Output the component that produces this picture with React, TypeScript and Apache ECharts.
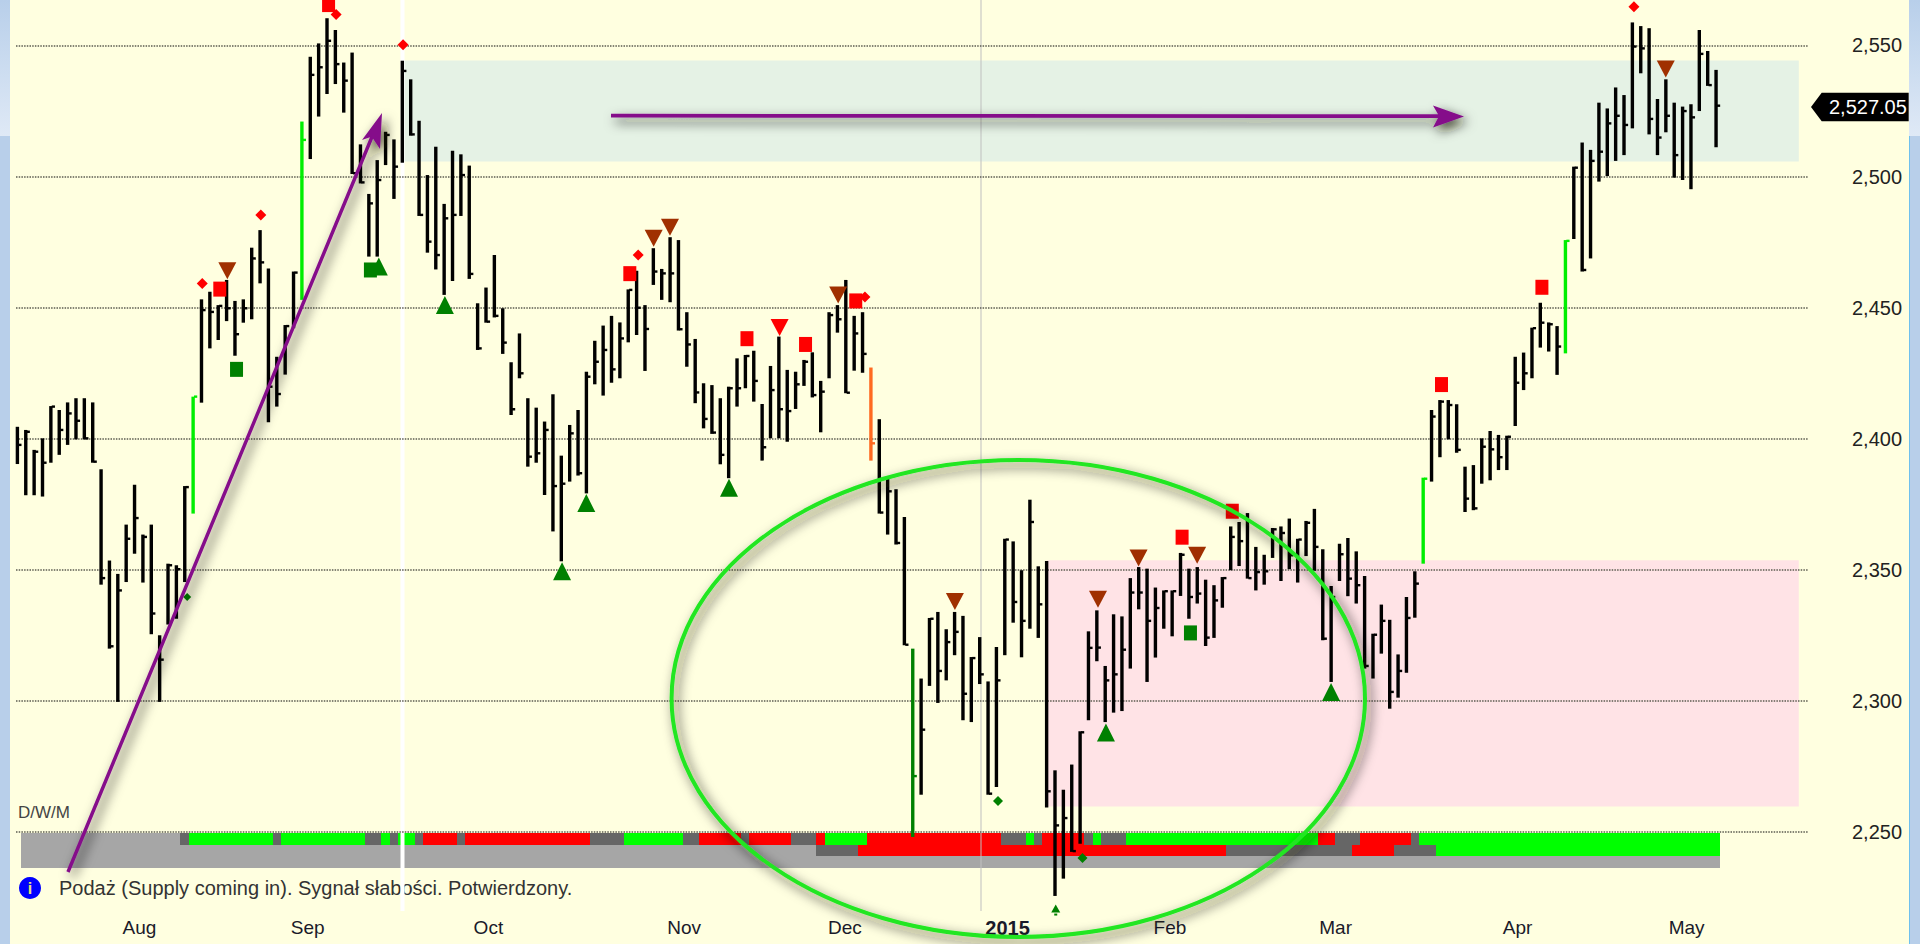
import React, { useEffect, useRef } from "react";
import * as echarts from "echarts";

const highs = [
  2404.6,2403.4,2395.8,2400.2,2412.5,2411,2413.9,2415.5,2415.5,2413.9,
  2388.4,2353.6,2348.5,2367.3,2382.5,2363.5,2367.3,2325.1,2352.4,2351.8,
  2382,2416.1,2453.2,2456.1,2451,2460.6,2452.6,2453.2,2472.9,2479.6,
  2465,2431.3,2443.4,2463.8,2521,2545.7,2550.8,2560.4,2555.9,2543.5,
  2547.3,2512.3,2493.4,2506.3,2517.1,2514.2,2544.2,2537.1,2521.3,2500.6,
  2511.4,2489.6,2509.9,2508.5,2504.2,2451.7,2457.7,2470.1,2449.8,2429.2,
  2440.2,2415.5,2411.9,2406.6,2417,2393.6,2405.3,2411,2425.6,2437.4,
  2443.2,2446.9,2444.4,2457,2464.1,2451,2472.7,2464.8,2476.9,2475.8,
  2448.3,2438.1,2421.2,2420.5,2415.5,2419.9,2430.7,2432,2433.6,2413.3,
  2427.8,2439,2426.3,2425.6,2430.1,2433,2422.1,2448.3,2451,2460.6,
  2446.9,2448.3,2427.2,2407.5,2385,2380.8,2370.2,2320,2308.6,2331.7,
  2334,2327.4,2334,2332.5,2316.8,2324.4,2307.5,2320.6,2361.9,2360.9,
  2349.9,2376.8,2351.4,2353.4,2273.6,2266.2,2275.8,2288.5,2326.6,2334.6,
  2313.4,2333.1,2332.3,2346.9,2351.1,2350.5,2343.3,2342.2,2342.2,2356.5,
  2350.5,2351.1,2346.3,2344.2,2347.3,2366.6,2368.3,2371.7,2358.8,2355.8,
  2366,2366.6,2369.6,2361.9,2368.7,2373.3,2357.9,2343.9,2360,2362.2,
  2357.1,2347.7,2325.7,2336.8,2331,2317.8,2339.7,2349.5,2385.2,2411,
  2414.8,2414.8,2413.2,2389.4,2390,2400.2,2403,2401.5,2401.2,2431.3,
  2432.9,2442.4,2451.9,2444.4,2443,2475.8,2503.8,2513,2510.2,2528.2,
  2526,2534,2531.1,2558.8,2557.4,2556.6,2529.6,2537.1,2528.2,2526.7,
  2527.6,2555.9,2547.9,2540.7,
];
const lows = [
  2390.4,2378.5,2378.5,2378,2390.9,2393.9,2397.7,2399.8,2399.8,2390.9,
  2344.4,2320,2299.7,2345.4,2356.2,2345.2,2325.5,2299.7,2329.2,2331.4,
  2345.4,2371.5,2413.8,2434.5,2437.7,2444.9,2431.7,2444.3,2445.6,2459.3,
  2406.3,2412.3,2424.5,2442.2,2453,2506.7,2522.9,2531.5,2535.3,2524.4,
  2501,2497.4,2469.5,2469.5,2504.4,2491.5,2505.3,2515.6,2485,2471,
  2464.6,2454.9,2460.2,2485,2461,2433.9,2444.3,2446.3,2432.4,2409.1,
  2423.1,2389.4,2390.9,2378.6,2364.7,2353.3,2383.7,2386,2379.2,2420.8,
  2416.5,2421.4,2423.1,2436.8,2439.6,2425.9,2458.7,2453,2452.1,2441.3,
  2427.5,2413.6,2404,2401.9,2390.3,2385,2412.3,2419.3,2414.2,2391.7,
  2400.2,2400.2,2398.9,2411.4,2420.2,2415.8,2402.5,2423.1,2440.5,2417.4,
  2426,2425.2,2391.7,2371.5,2363.5,2359.7,2321.3,2248.2,2264.3,2305.8,
  2299.3,2307.9,2317.5,2292.7,2292,2306.5,2264.3,2267.2,2317.5,2329.9,
  2316.7,2327.6,2324.1,2259.4,2225.7,2232.3,2242.5,2245.6,2292.7,2315.2,
  2292,2295.6,2296.2,2312.4,2335,2307.3,2316.6,2327.6,2324.7,2340.1,
  2331.4,2337.2,2321,2324.1,2335.6,2349.9,2351.5,2346.7,2342.2,2344.4,
  2354.6,2345.8,2350.3,2345.2,2355.3,2349.7,2323.2,2307.3,2345.8,2340,
  2337.2,2312.4,2308.6,2318.1,2297.1,2301.3,2310.8,2331.8,2352.4,2383.7,
  2393,2399.8,2394.7,2372.1,2372.8,2382.9,2384.2,2388.1,2388.1,2404.9,
  2418.6,2423.1,2434.8,2433.3,2424.4,2432.6,2476.2,2463.8,2468.8,2498.1,
  2500.2,2506,2508.2,2518.4,2539.4,2516.1,2508.2,2516.9,2499.6,2498.7,
  2495.2,2525,2534.6,2511.2,
];
const closes = [
  2397.7,2402.7,2395.1,2390.9,2412.3,2403.4,2409.7,2406.9,2400.2,2391.3,
  2346.9,2320.9,2342.2,2361.9,2369.8,2362.6,2333.4,2315.8,2351.8,2350.3,
  2381.6,2416.1,2449.1,2448.4,2450.7,2449.8,2439.9,2449.8,2468.8,2467.3,
  2419.9,2417.1,2443,2463.4,2514,2538.8,2541.7,2551.8,2542.9,2536.6,
  2501.3,2497.8,2489.8,2498.7,2515.9,2503.8,2540.3,2516.1,2485.4,2475.2,
  2470.1,2484.1,2485.4,2500.6,2462.9,2434.5,2444.7,2446.9,2436.7,2411.3,
  2425,2393.2,2394.5,2403.4,2382,2382.9,2402.1,2386.9,2423.7,2429.4,
  2433.9,2426.5,2438.3,2456.8,2450,2441.9,2463.8,2463.1,2463.1,2441.8,
  2436,2417.7,2407.6,2402.4,2393.9,2419.3,2419.3,2431.6,2422.1,2396.8,
  2418.6,2411.3,2410.6,2420.8,2429.4,2416.7,2418,2447.2,2445.6,2417.6,
  2440.2,2432.4,2398.3,2371.9,2380,2360.3,2321.5,2271.4,2289.1,2331.4,
  2311.5,2322.5,2326.4,2302.8,2316.4,2310.2,2264.7,2307.9,2361.6,2337.8,
  2330.6,2368.3,2336.9,2265.6,2252.6,2255.4,2242.8,2288.1,2320.3,2320.4,
  2307.9,2310.2,2319.6,2341.4,2341.4,2330.6,2335.5,2341.9,2341.9,2355.8,
  2339.7,2341,2324.2,2338.4,2346.9,2362.6,2361,2346.9,2349.2,2349.5,
  2365.5,2364.1,2355.6,2361.6,2368,2358.8,2323.8,2339.7,2356,2346.7,
  2344.2,2313.4,2325.3,2330.6,2303.5,2311.5,2331.7,2344.8,2384.8,2408.5,
  2414.2,2412.9,2395.8,2377.2,2373.5,2397,2396,2393,2400.8,2421.4,
  2425,2442.2,2444.3,2443.7,2435.2,2475.5,2503.4,2464.4,2506,2509.5,
  2520.3,2523.2,2519.7,2549.6,2548.9,2522,2514.9,2523.2,2508.2,2525,
  2522.6,2546.8,2534.9,2527.05,
];
const specialBars: Record<number, string> = {
  21: "#00ee00", 34: "#00ee00", 102: "#ff6a20", 107: "#008000", 168: "#00ee00", 185: "#00ee00",
};

const yTicks = [2250, 2300, 2350, 2400, 2450, 2500, 2550];
const monthLabels = ["Aug", "Sep", "Oct", "Nov", "Dec", "2015", "Feb", "Mar", "Apr", "May"];
const monthPositions = [14.6, 34.7, 56.3, 79.7, 98.9, 118.35, 137.75, 157.55, 179.3, 199.5];

// [x from, x to, price top, price bottom]
const supplyZone = [46.2, 212.9, 2544.3, 2505.8];
const demandZone = [123.05, 212.9, 2353.7, 2259.85];

const redSquares = [[24.2,2457.1],[37.2,2565.6],[73.2,2463],[87.2,2438.2],[94.2,2436],[100.2,2452.6],[139.2,2362.5],[145.2,2372.4],[170.2,2420.7],[182.2,2457.8]];
const greenSquares = [[26.2,2426.5],[42.2,2464.4],[140.2,2326]];
const redDiamonds = [[22.1,2459.2],[38.1,2561.8],[29.1,2485.4],[46.1,2550.3],[74.2,2470.1],[101.3,2454.1],[193.2,2564.8]];
const greenDiamonds = [[117.2,2261.9],[127.3,2240.2]];
const smallGreenDiamonds = [[20.3,2339.7]];
const spadeHeads = [[124.1,2220.9]];
const spadeDots = [[124.1,2218.6]];
const brownTriangles = [[25.1,2464.1],[76.05,2476.5],[78,2480.7],[98.1,2454.9],[112.05,2338],[129.15,2338.8],[134,2354.6],[141,2355.6],[197,2541]];
const redTriangles = [[91.1,2442.5]];
const greenTriangles = [[43.2,2465.7],[51.1,2451],[65.1,2349.5],[68,2375.5],[85.05,2381.4],[130.1,2288],[157,2303.5]];

// status rows: runs of [state, last bar] — n neutral, d dark, g green, r red
const dailyRuns: [string, number][] = [
  ["n",19],["d",20],["g",30],["d",31],["g",41],["d",43],["g",44],["d",45],["g",47],["d",48],["r",52],["d",53],["r",68],["d",72],
  ["g",79],["d",81],["r",86],["d",87],["r",92],["d",95],["r",96],["g",101],["r",117],["d",120],["g",121],["d",122],["r",127],
  ["d",128],["g",129],["d",132],["g",155],["r",157],["d",160],["r",166],["d",167],["g",203],
];
const weeklyRuns: [string, number][] = [["n",95],["d",100],["r",144],["d",159],["r",164],["d",169],["g",203]];
const monthlyRuns: [string, number][] = [["n",203]];
const stateColors: Record<string, string> = { n: "#a6a6a6", d: "#666666", g: "#00ff00", r: "#ff0000" };
const rowTops = [2249.7, 2245.3, 2240.9];
const rowHeight = 4.4;

const FONT = '"Liberation Sans", Arial, sans-serif';
const xMin = -0.155, xMax = 214, yMin = 2218.05, yMax = 2567.35;

function scatter(data: number[][], symbol: string, size: any, color: string, rotate = 0) {
  return {
    type: "scatter", data, symbol, symbolSize: size, symbolRotate: rotate, z: 4, silent: true, clip: false,
    itemStyle: { color, opacity: 1 },
  };
}

function buildRows() {
  const out: { start: number; end: number; top: number; state: string }[] = [];
  [dailyRuns, weeklyRuns, monthlyRuns].forEach((runs, row) => {
    let start = 0.5;
    runs.forEach(([state, last]) => {
      out.push({ start, end: last + 0.5, top: rowTops[row], state });
      start = last + 0.5;
    });
  });
  return out;
}

function buildOption() {
  const shadow = { shadowBlur: 12, shadowColor: "rgba(30,30,0,0.8)", shadowOffsetX: 4, shadowOffsetY: 5 };
  const rectSeries = (data: number[][], color: string) => ({
    type: "custom", z: 1, silent: true, data,
    renderItem: (_: any, api: any) => {
      const a = api.coord([api.value(0), api.value(2)]);
      const b = api.coord([api.value(1), api.value(3)]);
      return { type: "rect", shape: { x: a[0], y: a[1], width: b[0] - a[0], height: b[1] - a[1] }, style: { fill: color } };
    },
  });
  const rows = buildRows();
  const purple = "#85108a";
  const lightBlue = () => new echarts.graphic.LinearGradient(0, 0, 0, 1, [{ offset: 0, color: "#b8cfea" }, { offset: 1, color: "#dfe9f6" }]);
  return {
    animation: false,
    backgroundColor: "#ffffe0",
    grid: { left: 16, right: 112, top: 0, bottom: 28 },
    xAxis: {
      type: "value", min: xMin, max: xMax,
      axisLine: { show: false }, axisTick: { show: false }, splitLine: { show: false },
      axisLabel: {
        customValues: monthPositions, margin: 2, fontFamily: FONT, fontSize: 19, color: "#1a1a2a",
        formatter: (v: number) => {
          const t = monthLabels[monthPositions.indexOf(v)] ?? "";
          return t === "2015" ? `{b|${t}}` : t;
        },
        rich: { b: { fontWeight: "bold", fontSize: 20, fontFamily: FONT, color: "#1a1a2a" } },
      },
    },
    yAxis: {
      type: "value", position: "right", min: yMin, max: yMax, z: 2,
      axisLine: { show: false },
      axisTick: { show: false, customValues: yTicks },
      splitLine: { show: true, lineStyle: { color: "#5c5c50", type: [1.5, 1.2], width: 1.5 } },
      axisLabel: {
        customValues: yTicks, margin: 44, fontFamily: FONT, fontSize: 20, color: "#222222",
        formatter: (v: number) => v.toLocaleString("en-US"),
      },
    },
    series: [
      rectSeries([supplyZone], "#e5f2e5"),
      rectSeries([demandZone], "#ffe3e6"),
      {
        type: "custom", z: 1, silent: true, data: rows.map((r) => [r.start, r.end, r.top]),
        renderItem: (params: any, api: any) => {
          const a = api.coord([api.value(0), api.value(2)]);
          const b = api.coord([api.value(1), api.value(2) - rowHeight]);
          const x = Math.round(a[0]), y = Math.round(a[1]);
          return {
            type: "rect",
            shape: { x, y, width: Math.round(b[0]) - x, height: Math.round(b[1]) - y },
            style: { fill: stateColors[rows[params.dataIndex].state] },
          };
        },
      },
      {
        type: "custom", z: 3, silent: true,
        data: highs.map((h, i) => [i, h, lows[i], closes[i]]),
        renderItem: (_: any, api: any) => {
          const i = api.value(0);
          const top = api.coord([i, api.value(1)]);
          const bot = api.coord([i, api.value(2)]);
          const c = api.coord([i, api.value(3)]);
          const fill = specialBars[i] ?? "#000000";
          return {
            type: "group",
            children: [
              { type: "rect", shape: { x: top[0] - 1.6, y: top[1], width: 3.4, height: bot[1] - top[1] }, style: { fill } },
              { type: "rect", shape: { x: top[0] + 1, y: c[1] - 1.2, width: 3.2, height: 2.4 }, style: { fill } },
            ],
          };
        },
      },
      scatter(redSquares, "rect", [13, 15], "#ff0000"),
      scatter(greenSquares, "rect", [13, 15], "#008000"),
      scatter(redDiamonds, "diamond", 11, "#ff0000"),
      scatter(greenDiamonds, "diamond", 10, "#008000"),
      scatter(smallGreenDiamonds, "diamond", 8, "#008000"),
      scatter(spadeHeads, "triangle", [9, 8], "#008000"),
      scatter(spadeDots, "rect", [3, 2], "#008000"),
      scatter(brownTriangles, "triangle", [18, 17], "#a03000", 180),
      scatter(redTriangles, "triangle", [18, 17], "#ff0000", 180),
      scatter(greenTriangles, "triangle", [18, 18], "#008000"),
    ],
    graphic: {
      elements: [
        { type: "rect", z: 2, silent: true, shape: { x: 400.5, y: 0, width: 4, height: 911 }, style: { fill: "#ffffff" } },
        { type: "rect", z: 2, silent: true, shape: { x: 980.5, y: 0, width: 1, height: 911 }, style: { fill: "#c0c0c0" } },
        { type: "rect", z: 5, silent: true, shape: { x: 0, y: 0, width: 10, height: 944 }, style: { fill: "#b8cfea" } },
        { type: "rect", z: 5, silent: true, shape: { x: 1909, y: 0, width: 11, height: 944 }, style: { fill: "#b8cfea" } },
        { type: "rect", z: 5, silent: true, shape: { x: 0, y: 0, width: 10, height: 136 }, style: { fill: lightBlue() } },
        { type: "rect", z: 5, silent: true, shape: { x: 1909, y: 0, width: 11, height: 136 }, style: { fill: lightBlue() } },
        { type: "rect", z: 5, silent: true, shape: { x: 1909, y: 136, width: 1, height: 808 }, style: { fill: "#6fc0ee" } },
        { type: "text", z: 1, silent: true, x: 18, y: 812, style: { text: "D/W/M", font: `17px ${FONT}`, fill: "#444444", verticalAlign: "middle" } },
        { type: "circle", z: 1, silent: true, shape: { cx: 30, cy: 888, r: 11 }, style: { fill: "#0000ff" } },
        { type: "text", z: 1, silent: true, x: 30, y: 888, style: { text: "i", font: `bold 16px ${FONT}`, fill: "#e9e27a", align: "center", verticalAlign: "middle" } },
        { type: "text", z: 1, silent: true, x: 59, y: 888, style: { text: "Podaż (Supply coming in). Sygnał słabości. Potwierdzony.", font: `20px ${FONT}`, fill: "#333333", verticalAlign: "middle" } },
        { type: "polygon", z: 5, silent: true, shape: { points: [[1811, 107], [1821.7, 92.7], [1908.7, 92.7], [1908.7, 121.3], [1821.7, 121.3]] }, style: { fill: "#000000" } },
        { type: "text", z: 6, silent: true, x: 1829, y: 107, style: { text: "2,527.05", font: `20px ${FONT}`, fill: "#ffffff", verticalAlign: "middle" } },
        { type: "polygon", z: 8, silent: true, shape: { points: [[66.4, 871.3], [369.9, 137.3], [362, 140], [382, 113], [380, 149], [373.1, 138.7], [69.6, 872.7]] }, style: { fill: purple, ...shadow } },
        { type: "polygon", z: 8, silent: true, shape: { points: [[611, 113.8], [1438, 114.3], [1433, 105.5], [1464, 116.5], [1433, 127.5], [1438, 118], [611, 117.6]] }, style: { fill: purple, ...shadow } },
        { type: "ellipse", z: 8, silent: true, shape: { cx: 1018.3, cy: 698.5, rx: 346.7, ry: 238.5 }, style: { fill: "none", stroke: "#22e622", lineWidth: 4, ...shadow } },
      ],
    },
  };
}

export default function App() {
  const ref = useRef<HTMLDivElement>(null);
  useEffect(() => {
    const chart = echarts.init(ref.current!, undefined, { renderer: "svg" });
    chart.setOption(buildOption() as any);
    return () => chart.dispose();
  }, []);
  return <div ref={ref} style={{ position: "fixed", left: 0, top: 0, width: 1920, height: 944 }} />;
}
